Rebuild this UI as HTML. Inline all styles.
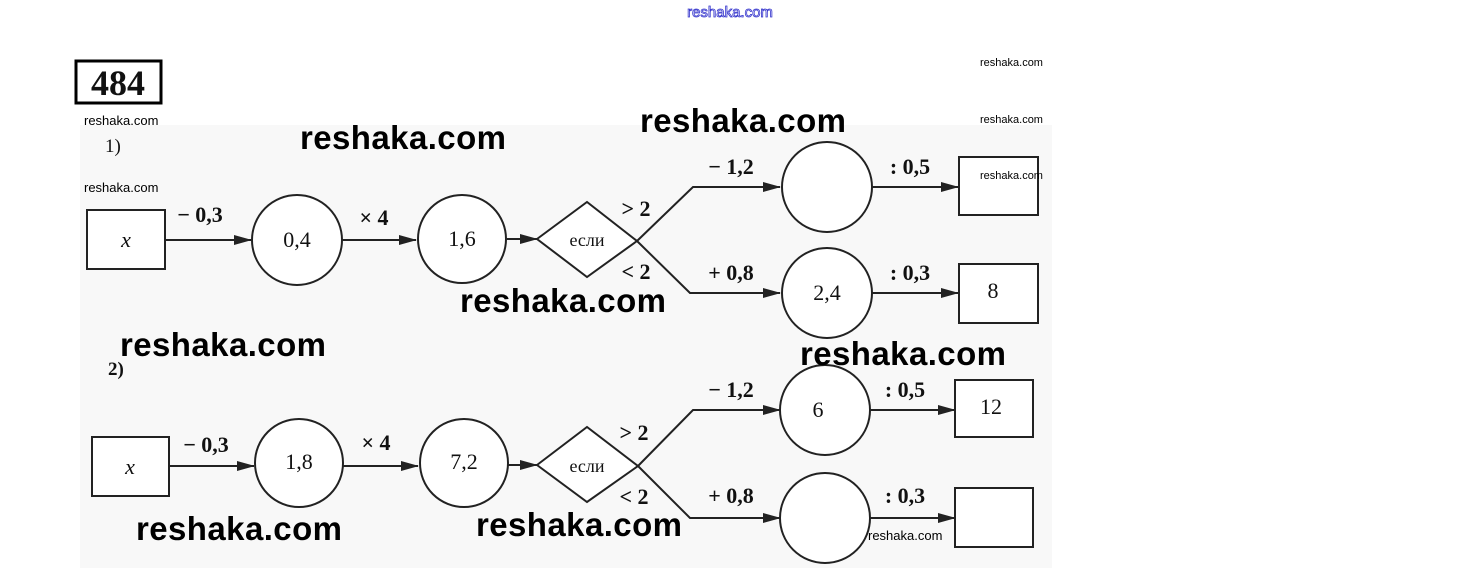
<!DOCTYPE html>
<html><head><meta charset="utf-8"><style>
html,body{margin:0;padding:0;background:#fff;width:1460px;height:568px;overflow:hidden}
svg{display:block}
.s{font-family:"Liberation Serif",serif;fill:#111}
.w{font-family:"Liberation Sans","DejaVu Sans",sans-serif;font-weight:bold;fill:#000;font-size:33px}
.ws{font-family:"Liberation Sans","DejaVu Sans",sans-serif;fill:#000;font-size:11px}
</style></head><body>
<svg width="1460" height="568" viewBox="0 0 1460 568">
<defs><marker id="a" markerWidth="18" markerHeight="10" refX="17" refY="5" orient="auto" markerUnits="userSpaceOnUse"><path d="M0,0L18,5L0,10z" fill="#222"/></marker></defs>
<rect x="80" y="125" width="972" height="443" fill="#f8f8f8"/>
<text x="730" y="17" text-anchor="middle" font-family="Liberation Sans,sans-serif" font-size="15" fill="#fff" stroke="#33c" stroke-width="0.8">reshaka.com</text>
<rect x="76" y="61" width="85" height="42" fill="#fff" stroke="#000" stroke-width="3"/>
<text x="118" y="95" text-anchor="middle" class="s" font-size="36" font-weight="bold">484</text>
<text x="105" y="152" class="s" font-size="19">1)</text>
<text x="108" y="375" class="s" font-size="19" font-weight="bold">2)</text>
<g stroke="#222" stroke-width="2" fill="none">
<rect x="87" y="210" width="78" height="59" fill="#fff"/>
<line x1="165" y1="240" x2="251" y2="240" marker-end="url(#a)"/>
<circle cx="297" cy="240" r="45" fill="#fff"/>
<line x1="342" y1="240" x2="416" y2="240" marker-end="url(#a)"/>
<circle cx="462" cy="239" r="44" fill="#fff"/>
<line x1="507" y1="239" x2="537" y2="239" marker-end="url(#a)"/>
<path d="M537,239L587,202L637,241L587,277z" fill="#fff"/>
<polyline points="637,241 693,187 780,187" marker-end="url(#a)"/>
<circle cx="827" cy="187" r="45" fill="#fff"/>
<line x1="872" y1="187" x2="958" y2="187" marker-end="url(#a)"/>
<rect x="959" y="157" width="79" height="58" fill="#fff"/>
<polyline points="637,241 690,293 780,293" marker-end="url(#a)"/>
<circle cx="827" cy="293" r="45" fill="#fff"/>
<line x1="872" y1="293" x2="958" y2="293" marker-end="url(#a)"/>
<rect x="959" y="264" width="79" height="59" fill="#fff"/>
<rect x="92" y="437" width="77" height="59" fill="#fff"/>
<line x1="169" y1="466" x2="254" y2="466" marker-end="url(#a)"/>
<circle cx="299" cy="463" r="44" fill="#fff"/>
<line x1="343" y1="466" x2="418" y2="466" marker-end="url(#a)"/>
<circle cx="464" cy="463" r="44" fill="#fff"/>
<line x1="508" y1="465" x2="537" y2="465" marker-end="url(#a)"/>
<path d="M537,465L587,427L638,466L587,502z" fill="#fff"/>
<polyline points="638,466 693,410 780,410" marker-end="url(#a)"/>
<circle cx="825" cy="410" r="45" fill="#fff"/>
<line x1="870" y1="410" x2="955" y2="410" marker-end="url(#a)"/>
<rect x="955" y="380" width="78" height="57" fill="#fff"/>
<polyline points="638,466 690,518 780,518" marker-end="url(#a)"/>
<circle cx="825" cy="518" r="45" fill="#fff"/>
<line x1="870" y1="518" x2="955" y2="518" marker-end="url(#a)"/>
<rect x="955" y="488" width="78" height="59" fill="#fff"/>
</g>
<g class="s" font-size="22" text-anchor="middle">
<text x="126" y="247" font-style="italic">x</text>
<text x="200" y="222" font-weight="bold">− 0,3</text>
<text x="297" y="247">0,4</text>
<text x="374" y="225" font-weight="bold">× 4</text>
<text x="462" y="246">1,6</text>
<text x="587" y="246" font-size="18">если</text>
<text x="636" y="216" font-weight="bold">&gt; 2</text>
<text x="636" y="279" font-weight="bold">&lt; 2</text>
<text x="731" y="174" font-weight="bold">− 1,2</text>
<text x="910" y="174" font-weight="bold">: 0,5</text>
<text x="731" y="280" font-weight="bold">+ 0,8</text>
<text x="827" y="300">2,4</text>
<text x="910" y="280" font-weight="bold">: 0,3</text>
<text x="993" y="298">8</text>
<text x="130" y="474" font-style="italic">x</text>
<text x="206" y="452" font-weight="bold">− 0,3</text>
<text x="299" y="469">1,8</text>
<text x="376" y="450" font-weight="bold">× 4</text>
<text x="464" y="469">7,2</text>
<text x="587" y="472" font-size="18">если</text>
<text x="634" y="440" font-weight="bold">&gt; 2</text>
<text x="634" y="504" font-weight="bold">&lt; 2</text>
<text x="731" y="397" font-weight="bold">− 1,2</text>
<text x="818" y="417">6</text>
<text x="905" y="397" font-weight="bold">: 0,5</text>
<text x="991" y="414">12</text>
<text x="731" y="503" font-weight="bold">+ 0,8</text>
<text x="905" y="503" font-weight="bold">: 0,3</text>
</g>
<g class="w">
<text x="300" y="149" textLength="206">reshaka.com</text>
<text x="640" y="132" textLength="206">reshaka.com</text>
<text x="460" y="312" textLength="206">reshaka.com</text>
<text x="120" y="356" textLength="206">reshaka.com</text>
<text x="800" y="365" textLength="206">reshaka.com</text>
<text x="136" y="540" textLength="206">reshaka.com</text>
<text x="476" y="536" textLength="206">reshaka.com</text>
</g>
<g class="ws">
<text x="980" y="66">reshaka.com</text>
<text x="84" y="125" font-size="13">reshaka.com</text>
<text x="980" y="123">reshaka.com</text>
<text x="84" y="192" font-size="13">reshaka.com</text>
<text x="980" y="179">reshaka.com</text>
<text x="868" y="540" font-size="13">reshaka.com</text>
</g>
</svg>
</body></html>
